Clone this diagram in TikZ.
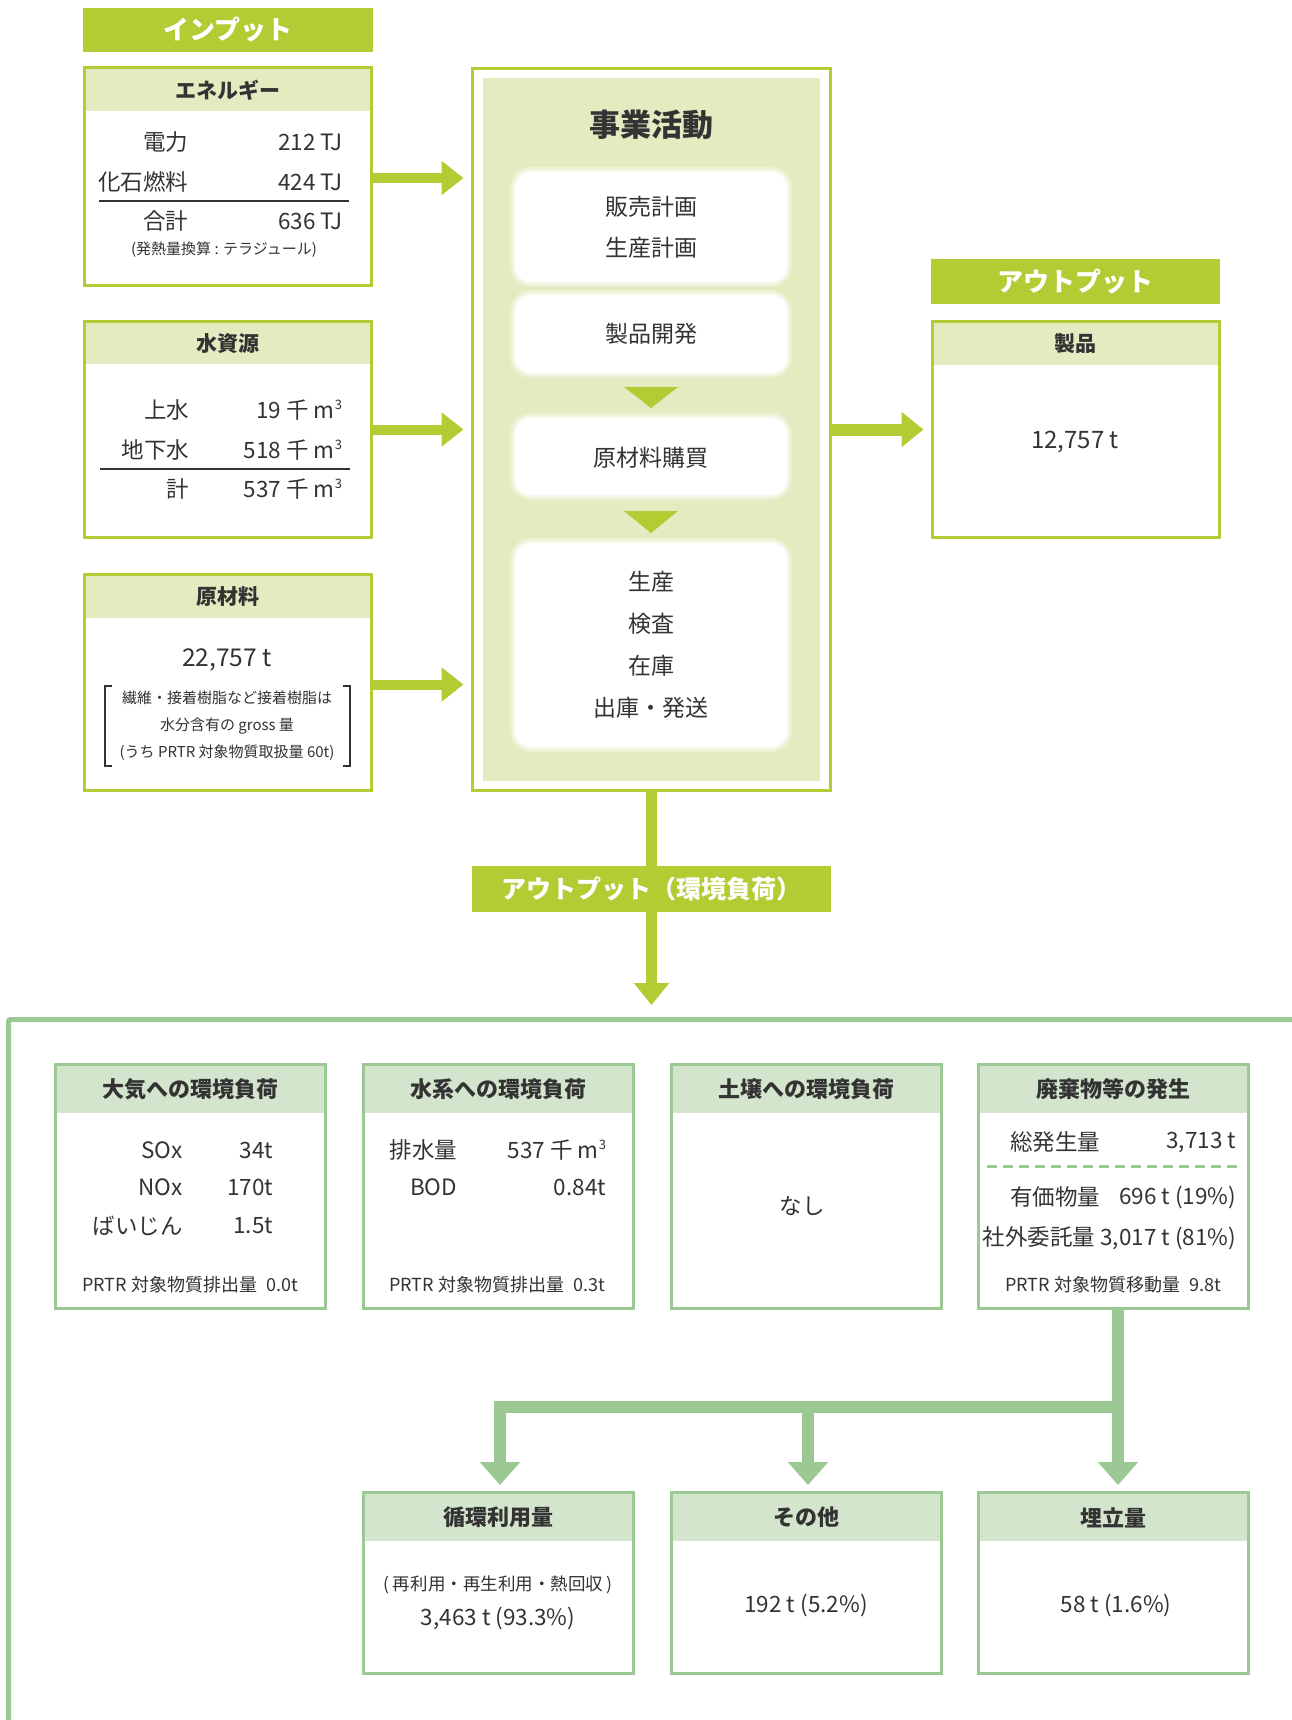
\documentclass[tikz,border=0pt]{standalone}
\usepackage{fontspec}
\setmainfont{Noto Sans CJK JP}
\usetikzlibrary{arrows.meta,calc}
\definecolor{limeG}{HTML}{B4CB34}
\definecolor{headL}{HTML}{E3EBC0}
\definecolor{sageG}{HTML}{9BC893}
\definecolor{sageL}{HTML}{D3E5CC}
\definecolor{ink}{HTML}{333333}
\newcommand\cubm{m\raisebox{0.4em}{\fontsize{13}{13}\selectfont 3}}
\begin{document}
\begin{tikzpicture}[x=1pt,y=-1pt,
  every node/.style={inner sep=0pt, outer sep=0pt, text=ink},
  banner/.style={fill=limeG, text=white, font=\fontsize{26}{30}\selectfont\bfseries},
  ibox/.style={draw=limeG, line width=3pt, fill=white, minimum width=287pt},
  ihead/.style={fill=headL, minimum width=284pt, minimum height=42pt, anchor=north, font=\fontsize{21}{25}\selectfont\bfseries},
  gbox/.style={draw=sageG, line width=3pt, fill=white, minimum width=270pt},
  ghead/.style={fill=sageL, minimum width=267pt, minimum height=47pt, anchor=north, font=\fontsize{22}{26}\selectfont\bfseries},
  tx/.style={font=\fontsize{22.5}{26}\selectfont},
  ptx/.style={font=\fontsize{23}{41}\selectfont, align=center},
  sm/.style={font=\fontsize{15}{18}\selectfont},
  smb/.style={font=\fontsize{18}{21}\selectfont},
  soft/.style={fill=white, rounded corners=16pt, minimum width=272pt,
     preaction={draw=white, line width=10pt, opacity=0.3},
     preaction={draw=white, line width=5pt, opacity=0.5}},
  larr/.style={draw=limeG, line width=10pt, -{Triangle[width=33pt,length=22pt]}, shorten >=9pt},
  gline/.style={draw=sageG, line width=12pt},
  garr/.style={gline, -{Triangle[width=39pt,length=23pt]}, shorten >=7.5pt}
]
\useasboundingbox (0,0) rectangle (1292,1720);
\fill[white] (0,0) rectangle (1292,1720);

% ---------- input column ----------
\node[banner, minimum width=290pt, minimum height=44pt] (inbanner) at (228,30) {インプット};

\node[ibox, minimum height=218pt] (energy) at (228,176.5) {};
\node[ihead] (energyH) at ([yshift=-1.5pt]energy.north) {エネルギー};
\node[tx, anchor=east] (e1) at (188,142) {電力};
\node[tx, anchor=east] (e1v) at (343,142) {212 TJ};
\node[tx, anchor=east] (e2) at (188,182) {化石燃料};
\node[tx, anchor=east] (e2v) at (343,182) {424 TJ};
\draw[ink, line width=1.5pt] (99,201) -- (349,201);
\node[tx, anchor=east] (e3) at (188,221) {合計};
\node[tx, anchor=east] (e3v) at (343,221) {636 TJ};
\node[sm] (enote) at (224,250) {(発熱量換算 : テラジュール)};

\node[ibox, minimum height=216pt] (water) at (228,429.5) {};
\node[ihead, minimum height=41pt] (waterH) at ([yshift=-1.5pt]water.north) {水資源};
\node[tx, anchor=east] (w1) at (189,410) {上水};
\node[tx, anchor=east] (w1v) at (342,410) {19 千 \cubm};
\node[tx, anchor=east] (w2) at (189,450) {地下水};
\node[tx, anchor=east] (w2v) at (342,450) {518 千 \cubm};
\draw[ink, line width=1.5pt] (100,469) -- (350,469);
\node[tx, anchor=east] (w3) at (189,489) {計};
\node[tx, anchor=east] (w3v) at (342,489) {537 千 \cubm};

\node[ibox, minimum height=216pt] (material) at (228,682.5) {};
\node[ihead] (materialH) at ([yshift=-1.5pt]material.north) {原材料};
\node[font=\fontsize{24.5}{28}\selectfont] (m1) at (227,660) {22,757 t};
\node[sm] (m2) at (227,698) {繊維・接着樹脂など接着樹脂は};
\node[sm] (m3) at (227,726) {水分含有の gross 量};
\node[sm] (m4) at (227,753) {(うち PRTR 対象物質取扱量 60t)};
\draw[ink, line width=1.2pt] (112,686) -- (105,686) -- (105,766) -- (112,766);
\draw[ink, line width=1.2pt] (343,686) -- (350,686) -- (350,766) -- (343,766);

% ---------- core ----------
\node[draw=limeG, line width=3pt, fill=white, minimum width=358pt, minimum height=722pt] (core) at (651.5,429.5) {};
\fill[headL] (483,78) rectangle (820,781);
\node[font=\fontsize{31}{36}\selectfont\bfseries] (coreT) at (651.5,125) {事業活動};
\node[soft, minimum height=110pt] (plan) at (651,227) {};
\node[ptx] (planT) at (651,227) {販売計画\\生産計画};
\node[soft, minimum height=78pt] (dev) at (651,334) {};
\node[ptx] (devT) at (651,334) {製品開発};
\node[soft, minimum height=77pt] (buy) at (651,456.5) {};
\node[ptx] (buyT) at (651,458) {原材料購買};
\node[soft, minimum height=204pt] (prod) at (651,645) {};
\node[ptx, font=\fontsize{23}{42}\selectfont] (prodT) at (651,645) {生産\\検査\\在庫\\出庫・発送};
\fill[limeG] ([xshift=-27pt,yshift=-14pt]dev.south) -- ([xshift=27pt,yshift=-14pt]dev.south) -- ([yshift=-35pt]dev.south) -- cycle;
\fill[limeG] ([xshift=-27pt,yshift=-16pt]buy.south) -- ([xshift=27pt,yshift=-16pt]buy.south) -- ([yshift=-38pt]buy.south) -- cycle;

% input arrows
\draw[larr] ([yshift=-1.5pt]energy.east) -- ([yshift=-1.5pt]energy.east -| core.west);
\draw[larr] (water.east) -- (water.east -| core.west);
\draw[larr] ([yshift=-2pt]material.east) -- ([yshift=-2pt]material.east -| core.west);

% ---------- product ----------
\node[banner, minimum width=289pt, minimum height=45pt] (outbanner) at (1075.5,281.5) {アウトプット};
\node[ibox, minimum height=216pt] (product) at (1075.5,429.5) {};
\node[ihead] (productH) at ([yshift=-1.5pt]product.north) {製品};
\node[font=\fontsize{24}{28}\selectfont] (pv) at (1075,442) {12,757 t};
\draw[larr, line width=12pt, -{Triangle[width=34pt,length=22pt]}, shorten >=8.5pt] (core.east) -- (core.east -| product.west);

% ---------- environmental output ----------
\node[banner, minimum width=359pt, minimum height=46pt, font=\fontsize{25}{29}\selectfont\bfseries] (envbanner) at (651.5,889) {アウトプット（環境負荷）};
\coordinate (envtip) at (651.5,1005);
\draw[draw=limeG, line width=11pt] (core.south) -- (envbanner.north);
\draw[larr, line width=11pt, -{Triangle[width=34pt,length=22pt]}, shorten >=0pt] (envbanner.south) -- (envtip);

\draw[sageG, line width=5pt, rounded corners=2pt] (8.5,1730) -- (8.5,1019.5) -- (1300,1019.5);

% row 1
\node[gbox, minimum height=244pt] (air) at (190.5,1186.5) {};
\node[ghead] (airH) at ([yshift=-1.5pt]air.north) {大気への環境負荷};
\node[tx, anchor=east] (a1) at (182.5,1150) {SOx};
\node[tx, anchor=east] (a1v) at (273,1150) {34t};
\node[tx, anchor=east] (a2) at (182.5,1187) {NOx};
\node[tx, anchor=east] (a2v) at (273,1187) {170t};
\node[tx, anchor=east] (a3) at (182.5,1226) {ばいじん};
\node[tx, anchor=east] (a3v) at (273,1226) {1.5t};
\node[smb] (a4) at (190,1285) {PRTR 対象物質排出量\enspace 0.0t};

\node[gbox, minimum height=244pt] (aqua) at (498,1186.5) {};
\node[ghead] (aquaH) at ([yshift=-1.5pt]aqua.north) {水系への環境負荷};
\node[tx, anchor=east] (q1) at (457,1150) {排水量};
\node[tx, anchor=east] (q1v) at (606,1150) {537 千 \cubm};
\node[tx, anchor=east] (q2) at (457,1187) {BOD};
\node[tx, anchor=east] (q2v) at (606,1187) {0.84t};
\node[smb] (q3) at (497,1285) {PRTR 対象物質排出量\enspace 0.3t};

\node[gbox, minimum height=244pt] (soil) at (806,1186.5) {};
\node[ghead] (soilH) at ([yshift=-1.5pt]soil.north) {土壌への環境負荷};
\node[tx] (s1) at (802,1206) {なし};

\node[gbox, minimum height=244pt] (waste) at (1113.5,1186.5) {};
\node[ghead] (wasteH) at ([yshift=-1.5pt]waste.north) {廃棄物等の発生};
\node[tx, anchor=west] (x1) at (1010,1142) {総発生量};
\node[tx, anchor=east] (x1v) at (1236,1142) {3,713 t};
\draw[sageG, line width=3pt, dash pattern=on 10pt off 6pt] (987,1166) -- (1239,1166);
\node[tx, anchor=west] (x2) at (1010,1197) {有価物量};
\node[tx, anchor=east] (x2v) at (1236,1197) {696 t (19\%)};
\node[tx, anchor=east] (x3) at (1236,1238) {社外委託量 3,017 t (81\%)};
\node[smb] (x4) at (1113,1285) {PRTR 対象物質移動量\enspace 9.8t};

% row 2
\node[gbox, minimum height=181pt] (recycle) at (498,1583) {};
\node[ghead] (recycleH) at ([yshift=-1.5pt]recycle.north) {循環利用量};
\node[font=\fontsize{17.5}{21}\selectfont] (r1) at (498,1585) {( 再利用・再生利用・熱回収 )};
\node[tx] (r2) at (498,1618) {3,463 t (93.3\%)};

\node[gbox, minimum height=181pt] (other) at (806,1583) {};
\node[ghead] (otherH) at ([yshift=-1.5pt]other.north) {その他};
\node[tx] (o1) at (806,1605) {192 t (5.2\%)};

\node[gbox, minimum height=181pt] (landfill) at (1113.5,1583) {};
\node[ghead] (landfillH) at ([yshift=-1.5pt]landfill.north) {埋立量};
\node[tx] (l1) at (1116,1605) {58 t (1.6\%)};

% tree connectors
\coordinate (split) at (1118,1406.5);
\coordinate (rtop) at ([xshift=2pt]recycle.north);
\coordinate (otop) at ([xshift=2pt]other.north);
\draw[garr] ([xshift=4.5pt]waste.south) -- ([xshift=4.5pt]landfill.north);
\draw[garr] (split) -| (rtop);
\draw[garr] (otop |- split) -- (otop);
\end{tikzpicture}
\end{document}
